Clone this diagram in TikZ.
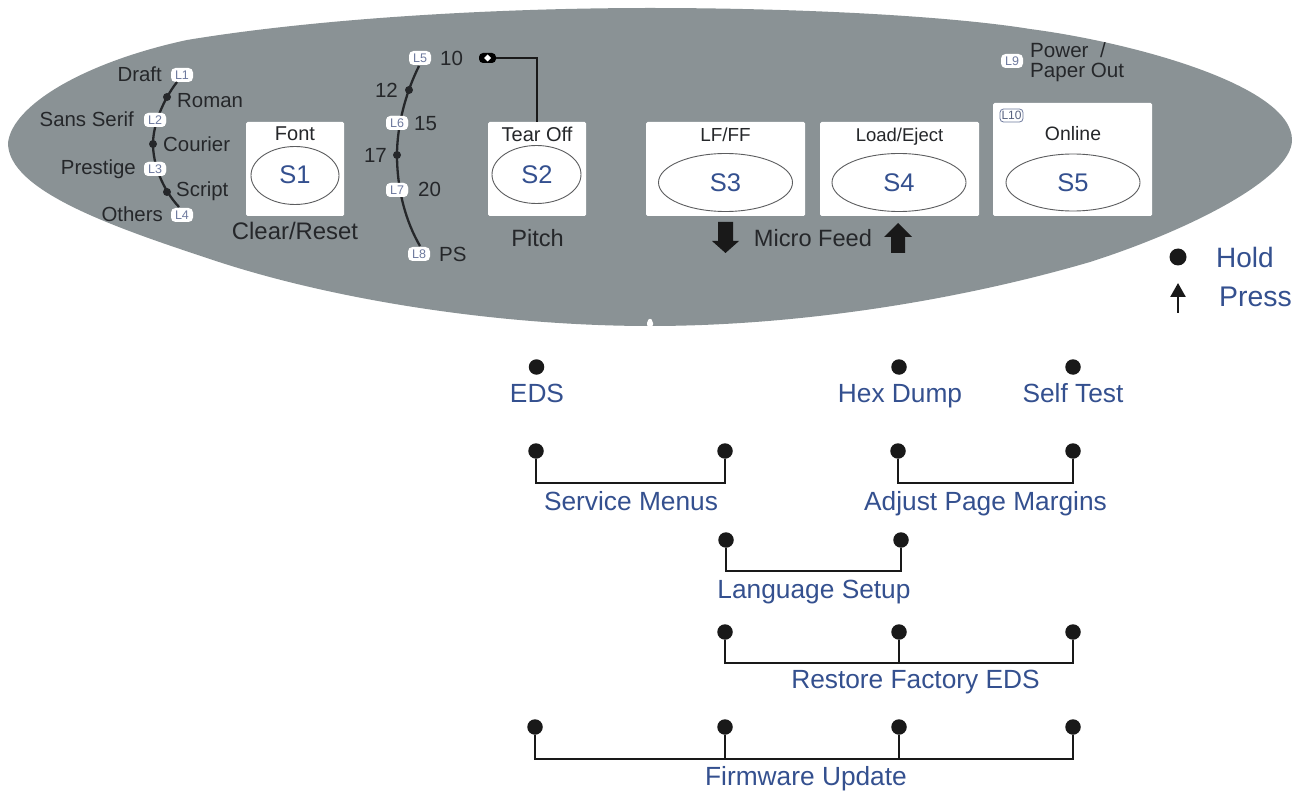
\documentclass[tikz,border=0pt]{standalone}
\usepackage{fontspec}
\setmainfont{Liberation Sans}
\usetikzlibrary{arrows.meta}
\definecolor{panelgray}{HTML}{8A9295}
\definecolor{ink}{HTML}{25272A}
\definecolor{lblue}{HTML}{34508F}
\definecolor{ledtext}{HTML}{6E7A9E}
\newcommand{\fs}[1]{\fontsize{#1}{#1}\selectfont}
\tikzset{
  x=1pt,y=-1pt,
  lab/.style={text=ink,inner sep=0pt,font=\fs{20.4}},
  num/.style={text=ink,inner sep=0pt,font=\fs{20.5}},
  big/.style={text=ink,inner sep=0pt,font=\fs{23.6},anchor=base},
  blab/.style={text=lblue,inner sep=0pt,font=\fs{26.3},anchor=base},
  skey/.style={text=lblue,inner sep=0pt,font=\fs{25.5},anchor=base},
  keycap/.style={text=ink,inner sep=0pt,anchor=base},
  led/.style={fill=white,rounded corners=4.5pt,minimum width=22pt,minimum height=14pt,inner sep=0pt,text=ledtext,font=\fs{12.5}},
  keybox/.style={fill=white,rounded corners=1.5pt,inner sep=0pt},
  keyell/.style={draw=ink!75,line width=0.9pt,fill=white},
  dotm/.style={circle,fill=black!90,inner sep=0pt,minimum size=15.5pt},
  smdot/.style={circle,fill=ink,inner sep=0pt,minimum size=8pt},
  arcl/.style={draw=ink,line width=2.3pt},
  bar/.style={draw=black!90,line width=2.2pt},
}
\begin{document}
\begin{tikzpicture}
\useasboundingbox (0,0) rectangle (1309,794);
\fill[white] (0,0) rectangle (1309,794);
% panel
\fill[panelgray] (8,143) .. controls (12,105) and (85,62) .. (187,40)
  .. controls (320,18) and (500,8) .. (650,8)
  .. controls (800,8) and (950,16) .. (1030,29)
  .. controls (1130,42) and (1292,85) .. (1292,140)
  .. controls (1292,178) and (1190,230) .. (1090,262)
  .. controls (960,300) and (800,326) .. (650,326)
  .. controls (500,326) and (330,300) .. (207,258)
  .. controls (110,226) and (8,190) .. (8,143) -- cycle;
\fill[white,rounded corners=2pt] (647,326.5) -- (647,321) -- (650,318) -- (653,321) -- (653,326.5) -- cycle;
% LEDs
\node[led] (L1) at (182,75) {L1};
\node[led] (L2) at (155,120) {L2};
\node[led] (L3) at (155,169) {L3};
\node[led] (L4) at (182,215) {L4};
\node[led] (L5) at (420,58) {L5};
\node[led] (L6) at (397,123) {L6};
\node[led] (L7) at (397,190) {L7};
\node[led] (L8) at (419,254) {L8};
\node[led] (L9) at (1012,61) {L9};
% arcs
\coordinate (a1) at (177,82);
\node[smdot] (d1) at (167,97) {};
\node[smdot] (d2) at (153,144) {};
\node[smdot] (d3) at (167,192) {};
\coordinate (a4) at (179,207);
\draw[arcl] (a1) .. controls (163,100) and (153,125) .. (d2.center) .. controls (153,165) and (163,190) .. (a4);
\coordinate (b1) at (419,66);
\node[smdot] (d4) at (409,90) {};
\node[smdot] (d5) at (397,155) {};
\coordinate (b4) at (420,246);
\draw[arcl] (b1) .. controls (406,92) and (397,125) .. (d5.center) .. controls (397,190) and (406,222) .. (b4);
\node[led] at (L2) {L2};
\node[led] at (L3) {L3};
\node[led] at (L6) {L6};
\node[led] at (L7) {L7};
% arc labels
\node[lab,anchor=base east] at (162,82) {Draft};
\node[lab,anchor=base west] at (177,108) {Roman};
\node[lab,anchor=base east] at (134,127) {Sans Serif};
\node[lab,anchor=base west] at (163,152) {Courier};
\node[lab,anchor=base east] at (136,175) {Prestige};
\node[lab,anchor=base west] at (176,197) {Script};
\node[lab,anchor=base east] at (163,222) {Others};
\node[num,anchor=base west] at (440,66) {10};
\node[num,anchor=base east] at (398,98) {12};
\node[num,anchor=base west] at (414,131) {15};
\node[num,anchor=base east] at (387,163) {17};
\node[num,anchor=base west] at (418,197) {20};
\node[num,anchor=base west] at (439,262) {PS};
% keys
\node[keybox,minimum width=98pt,minimum height=94pt] (k1) at (295,169) {};
\node[keybox,minimum width=98pt,minimum height=94pt] (k2) at (537,169) {};
\node[keybox,minimum width=159pt,minimum height=94pt] (k3) at (725.5,169) {};
\node[keybox,minimum width=159pt,minimum height=94pt] (k4) at (899.5,169) {};
\node[keybox,minimum width=159pt,minimum height=113pt] (k5) at (1072.5,159.5) {};
\node[fill=black,rounded corners=4pt,minimum width=17pt,minimum height=10pt,inner sep=0pt] (slot) at (487.5,58) {};
\fill[white] (484,58) -- (487.5,54.5) -- (491,58) -- (487.5,61.5) -- cycle;
\coordinate (sj) at (537,58);
\draw[bar] (slot.east) -- (sj) -- (k2.north);
\node[keycap,font=\fs{20}] at (295,141) {Font};
\node[keycap,font=\fs{20}] at (537,142) {Tear Off};
\node[keycap,font=\fs{18.9}] at (725.5,142) {LF/FF};
\node[keycap,font=\fs{18.5}] at (899.5,142) {Load/Eject};
\node[keycap,font=\fs{19.4}] at (1073,141) {Online};
\draw[keyell] (295,175.5) ellipse (44 and 29);
\draw[keyell] (536.5,174.5) ellipse (44.5 and 29);
\draw[keyell] (725.5,182.5) ellipse (67 and 29);
\draw[keyell] (899,182.5) ellipse (67 and 29);
\draw[keyell] (1073,182.5) ellipse (67 and 28.5);
\node[skey] at (295,184) {S1};
\node[skey] at (537,184) {S2};
\node[skey] at (725.5,192) {S3};
\node[skey] at (899,192) {S4};
\node[skey] at (1073,192) {S5};
\node[draw=ledtext,line width=0.8pt,rounded corners=3.5pt,minimum width=23pt,minimum height=13pt,inner sep=0pt,text=ledtext!80!black,font=\fs{12}] (L10) at (1011.5,115.5) {L10};
\node[big,font=\fs{23.9}] at (295,240) {Clear/Reset};
\node[big] at (537.5,247) {Pitch};
\node[big] at (813,247) {Micro Feed};
\node[lab,anchor=base west,font=\fs{20.6}] at (1030,58) {Power~ /};
\node[lab,anchor=base west,font=\fs{20.6}] at (1030,78) {Paper Out};
% micro-feed arrows
\fill[black!90] (718,222) -- (733,222) -- (733,241) -- (739,241) -- (725.5,253) -- (712,241) -- (718,241) -- cycle;
\fill[black!90] (891,253) -- (905,253) -- (905,237) -- (912,237) -- (898,223) -- (884,237) -- (891,237) -- cycle;
% legend
\node[dotm,minimum size=17pt] (hold) at (1178,257) {};
\node[blab,anchor=base west,font=\fs{28}] at (1216,268) {Hold};
\coordinate (pt) at (1178,283);
\coordinate (pb) at (1178,313);
\draw[line width=2.4pt,draw=black!90,-{Triangle[length=14pt,width=15pt]}] (pb) -- (pt);
\node[blab,anchor=base west,font=\fs{28.4}] at (1219,307) {Press};
% key combos
\node[dotm] (e1) at (536.5,367) {};
\node[dotm] (e2) at (899,367) {};
\node[dotm] (e3) at (1073,367) {};
\node[blab] at (537,402) {EDS};
\node[blab] at (900,402) {Hex Dump};
\node[blab] at (1073,402) {Self Test};
\node[dotm] (s1) at (536,451) {};
\node[dotm] (s2) at (725,451) {};
\coordinate (s3) at (630,483);
\draw[bar] (s1) |- (s3) -| (s2);
\node[blab] at (631,510) {Service Menus};
\node[dotm] (m1) at (898,451) {};
\node[dotm] (m2) at (1073,451) {};
\coordinate (m3) at (985,483);
\draw[bar] (m1) |- (m3) -| (m2);
\node[blab] at (985.5,510) {Adjust Page Margins};
\node[dotm] (g1) at (726,540) {};
\node[dotm] (g2) at (901,540) {};
\coordinate (g3) at (814,571);
\draw[bar] (g1) |- (g3) -| (g2);
\node[blab] at (814,598) {Language Setup};
\node[dotm] (r1) at (725,632) {};
\node[dotm] (r2) at (899,632) {};
\node[dotm] (r3) at (1073,632) {};
\coordinate (rj) at (899,663);
\draw[bar] (r1) |- (rj) -| (r3);
\draw[bar] (r2) -- (rj);
\node[blab] at (915.5,688) {Restore Factory EDS};
\node[dotm] (f1) at (535,727) {};
\node[dotm] (f2) at (725,727) {};
\node[dotm] (f3) at (899,727) {};
\node[dotm] (f4) at (1073,727) {};
\coordinate (fa) at (725,759);
\coordinate (fb) at (899,759);
\draw[bar] (f1) |- (fa) -- (fb) -| (f4);
\draw[bar] (f2) -- (fa);
\draw[bar] (f3) -- (fb);
\node[blab] at (806,785) {Firmware Update};
\end{tikzpicture}
\end{document}
